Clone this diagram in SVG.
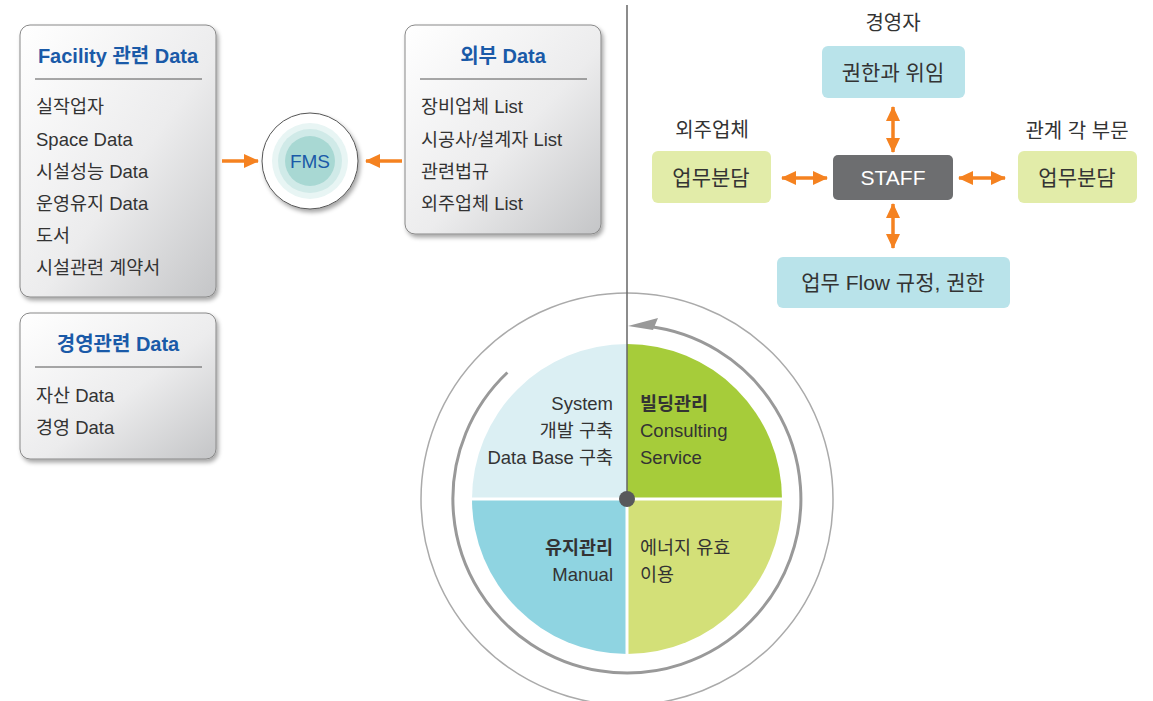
<svg xmlns="http://www.w3.org/2000/svg" width="1153" height="701" viewBox="0 0 1153 701">
<defs>
<linearGradient id="boxg" x1="0" y1="0" x2="1" y2="1">
<stop offset="0" stop-color="#ffffff"/>
<stop offset="0.55" stop-color="#ececed"/>
<stop offset="1" stop-color="#c4c5c7"/>
</linearGradient>
<filter id="sh" x="-10%" y="-10%" width="125%" height="125%">
<feDropShadow dx="2" dy="3" stdDeviation="2" flood-color="#000" flood-opacity="0.35"/>
</filter>
<marker id="oa" viewBox="0 0 15 14" refX="14" refY="7" markerWidth="15" markerHeight="14" markerUnits="userSpaceOnUse" orient="auto-start-reverse">
<path d="M0,0 L15,7 L0,14 Z" fill="#f58220"/>
</marker>
</defs>
<style>
text{font-family:"Liberation Sans","Noto Sans CJK KR",sans-serif;fill:#333;}
.t{font-size:20px;font-weight:bold;fill:#1a5aa8;text-anchor:middle;}
.i{font-size:18.5px;}
.c{text-anchor:middle;font-size:21px;}
.l{text-anchor:middle;font-size:20px;}
.r{text-anchor:end;font-size:18.5px;}
.b{font-weight:bold;}
.box{fill:url(#boxg);stroke:#888;stroke-width:1;filter:url(#sh);}
.sep{stroke:#555;stroke-width:1;}
.oarr{stroke:#f58220;stroke-width:3.5;fill:none;}
</style>

<g id="facility">
<rect class="box" x="20" y="25" width="196" height="272" rx="10"/>
<text class="t" x="118" y="63">Facility 관련 Data</text>
<line class="sep" x1="35" y1="79" x2="202" y2="79"/>
<text class="i" x="36" y="113">실작업자</text>
<text class="i" x="36" y="146">Space Data</text>
<text class="i" x="36" y="178">시설성능 Data</text>
<text class="i" x="36" y="210">운영유지 Data</text>
<text class="i" x="36" y="242">도서</text>
<text class="i" x="36" y="274">시설관련 계약서</text>
</g>

<g id="management">
<rect class="box" x="20" y="313" width="196" height="146" rx="10"/>
<text class="t" x="118" y="351">경영관련 Data</text>
<line class="sep" x1="35" y1="367" x2="202" y2="367"/>
<text class="i" x="36" y="402">자산 Data</text>
<text class="i" x="36" y="434">경영 Data</text>
</g>

<g id="external">
<rect class="box" x="405" y="25" width="196" height="209" rx="10"/>
<text class="t" x="503" y="63">외부 Data</text>
<line class="sep" x1="420" y1="79" x2="587" y2="79"/>
<text class="i" x="421" y="113">장비업체 List</text>
<text class="i" x="421" y="146">시공사/설계자 List</text>
<text class="i" x="421" y="178">관련법규</text>
<text class="i" x="421" y="210">외주업체 List</text>
</g>

<g id="fms">
<circle cx="310" cy="161" r="48" fill="#fff" stroke="#555" stroke-width="1" filter="url(#sh)"/>
<circle cx="310" cy="161" r="38" fill="#e8f5f4"/>
<circle cx="310" cy="161" r="32" fill="#d0eae8"/>
<circle cx="310" cy="161" r="25" fill="#a8d8d3"/>
<text x="310" y="168" text-anchor="middle" style="font-size:19px;fill:#1a5aa8;">FMS</text>
</g>

<g id="pie">
<circle cx="627" cy="499" r="206" fill="none" stroke="#aaa" stroke-width="1.5"/>
<path d="M627,499 L472,499 A155,155 0 0 1 627,344 Z" fill="#dbeff3"/>
<path d="M627,499 L627,344 A155,155 0 0 1 782,499 Z" fill="#a6cc3a"/>
<path d="M627,499 L782,499 A155,155 0 0 1 627,654 Z" fill="#d3e078"/>
<path d="M627,499 L627,654 A155,155 0 0 1 472,499 Z" fill="#8fd4e1"/>
<line x1="470" y1="499" x2="784" y2="499" stroke="#fff" stroke-width="3"/>
<line x1="627" y1="499" x2="627" y2="656" stroke="#fff" stroke-width="3"/>
<path d="M648.2,326.3 A174,174 0 1 1 507.4,372.5" fill="none" stroke="#999" stroke-width="3"/>
<polygon points="628,326 658,318 653,330" fill="#999"/>
<line x1="627" y1="5" x2="627" y2="499" stroke="#666" stroke-width="1.5"/>
<circle cx="627" cy="499" r="8" fill="#58595b"/>
<text class="r" x="613" y="410">System</text>
<text class="r" x="613" y="437">개발 구축</text>
<text class="r" x="613" y="464">Data Base 구축</text>
<text class="i b" x="640" y="410">빌딩관리</text>
<text class="i" x="640" y="437">Consulting</text>
<text class="i" x="640" y="464">Service</text>
<text class="r b" x="613" y="554">유지관리</text>
<text class="r" x="613" y="581">Manual</text>
<text class="i" x="640" y="554">에너지 유효</text>
<text class="i" x="640" y="581">이용</text>
</g>

<g id="ceo">
<text class="l" x="893" y="30">경영자</text>
<rect x="822" y="46" width="143" height="52" rx="6" fill="#b9e3ea"/>
<text class="c" x="893" y="80">권한과 위임</text>
</g>
<g id="outsourcing">
<text class="l" x="712" y="137">외주업체</text>
<rect x="652" y="151" width="119" height="52" rx="6" fill="#e2eca9"/>
<text class="c" x="711" y="185">업무분담</text>
</g>
<g id="staff">
<rect x="833" y="155" width="120" height="45" rx="5" fill="#6d6e70"/>
<text class="c" x="893" y="185" style="fill:#fff;">STAFF</text>
</g>
<g id="departments">
<text class="l" x="1077" y="138">관계 각 부문</text>
<rect x="1018" y="151" width="119" height="52" rx="6" fill="#e2eca9"/>
<text class="c" x="1077" y="185">업무분담</text>
</g>
<g id="flow">
<rect x="777" y="257" width="233" height="51" rx="6" fill="#b9e3ea"/>
<text class="c" x="893" y="290">업무 Flow 규정, 권한</text>
</g>

<g id="connectors">
<line class="oarr" x1="222" y1="161" x2="258" y2="161" marker-end="url(#oa)"/>
<line class="oarr" x1="402" y1="161" x2="366" y2="161" marker-end="url(#oa)"/>
<line class="oarr" x1="893" y1="107" x2="893" y2="152" marker-start="url(#oa)" marker-end="url(#oa)"/>
<line class="oarr" x1="893" y1="204" x2="893" y2="248" marker-start="url(#oa)" marker-end="url(#oa)"/>
<line class="oarr" x1="782" y1="178" x2="827" y2="178" marker-start="url(#oa)" marker-end="url(#oa)"/>
<line class="oarr" x1="959" y1="178" x2="1005" y2="178" marker-start="url(#oa)" marker-end="url(#oa)"/>
</g>
</svg>
